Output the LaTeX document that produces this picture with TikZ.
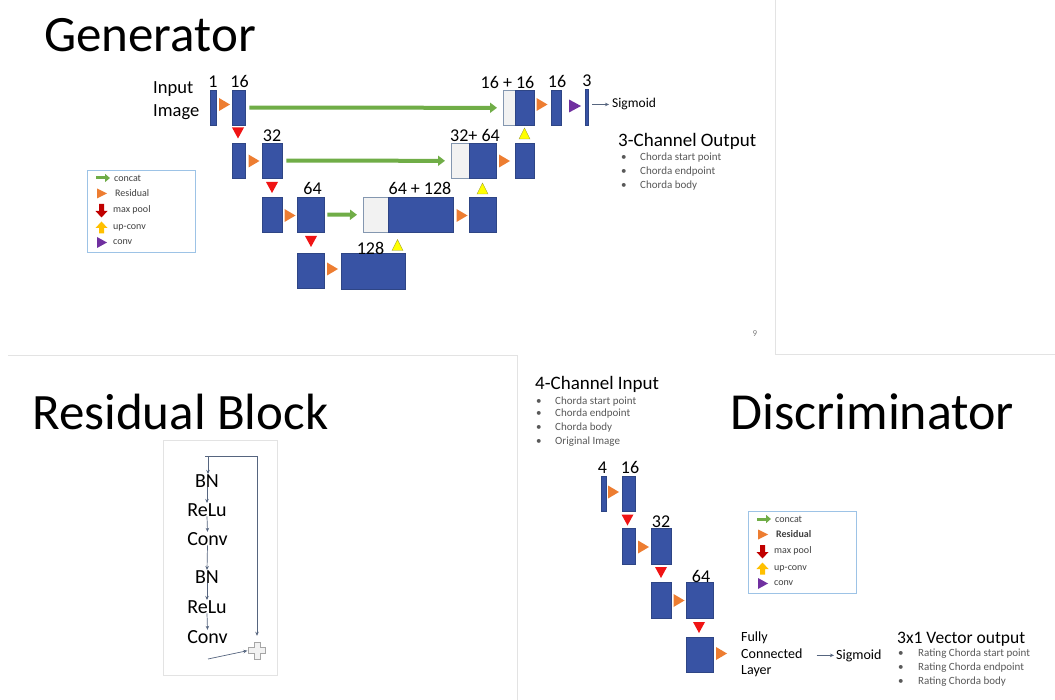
\documentclass[tikz,border=0pt]{standalone}
\usepackage{fontspec}
\setmainfont{Carlito}
\usetikzlibrary{arrows.meta}

\definecolor{blkblue}{HTML}{3853A4}
\definecolor{blkedge}{HTML}{2E4585}
\definecolor{catfill}{HTML}{F2F2F2}
\definecolor{catedge}{HTML}{8497B0}
\definecolor{catgreen}{HTML}{70AD47}
\definecolor{triorange}{HTML}{ED7D31}
\definecolor{trired}{HTML}{F01414}
\definecolor{triyellow}{HTML}{FFFF00}
\definecolor{yellowedge}{HTML}{9A9A30}
\definecolor{triviolet}{HTML}{7030A0}
\definecolor{legred}{HTML}{C00000}
\definecolor{legyellow}{HTML}{FFC000}
\definecolor{legedge}{HTML}{9DC3E6}
\definecolor{legtextc}{HTML}{404040}
\definecolor{bulgray}{HTML}{595959}
\definecolor{slate}{HTML}{56657F}
\definecolor{panel}{HTML}{E3E3E3}

\newcommand\Blk[6][blk]{\node[#1, minimum width=#5pt, minimum height=#6pt, anchor=north west] (#2) at (#3,#4) {};}
\newcommand\Bul[5]{%
  \node[bultext] (#1b) at (#2,#4) {\textbullet};
  \node[bultext] (#1t) at (#3,#4) {#5};}

\tikzset{
  blk/.style={draw=blkedge, fill=blkblue, line width=0.3pt, inner sep=0pt},
  catw/.style={draw=catedge, fill=catfill, line width=0.6pt, inner sep=0pt},
  title/.style={font=\fontsize{51}{60}\selectfont, anchor=base west, inner sep=0pt},
  lbl/.style={font=\fontsize{18}{20}\selectfont, anchor=base, inner sep=0pt},
  side/.style={font=\fontsize{18.5}{22}\selectfont, anchor=base west, inner sep=0pt},
  head/.style={font=\fontsize{19}{22}\selectfont, anchor=base west, inner sep=0pt},
  bultext/.style={font=\fontsize{11}{13}\selectfont, text=bulgray, anchor=base west, inner sep=0pt},
  rbtext/.style={font=\fontsize{20}{22}\selectfont, anchor=base, inner sep=0pt},
  legtext/.style={font=\fontsize{10}{12}\selectfont, text=legtextc, anchor=west, inner sep=0pt},
  catarrow/.style={draw=catgreen, line width=4pt, shorten <=4pt, shorten >=6pt,
    -{Triangle[length=7pt,width=10pt]}},
  thinarrow/.style={draw=slate, line width=0.6pt, -{Stealth[length=4pt,width=3.5pt]}},
  rbarrow/.style={draw=slate, line width=0.7pt, -{Stealth[length=4pt,width=3.5pt]}},
  rbline/.style={draw=slate, line width=0.7pt},
  panelline/.style={draw=panel, line width=0.8pt},
  rtri/.pic={\fill[triorange] (-5,-6.5) -- (6,0) -- (-5,6.5) -- cycle;},
  ptri/.pic={\fill[triviolet] (-6,-6.5) -- (6,0) -- (-6,6.5) -- cycle;},
  dtri/.pic={\fill[trired] (-6,-5.5) -- (6,-5.5) -- (0,5.5) -- cycle;},
  utri/.pic={\filldraw[fill=triyellow, draw=yellowedge, line width=0.4pt]
    (-5.5,5.5) -- (5.5,5.5) -- (0,-5.5) -- cycle;},
  legend/.pic={
    \node[draw=legedge, fill=white, line width=1pt, minimum width=108pt,
      minimum height=82pt, anchor=north west, inner sep=0pt] (-box) at (0,0) {};
    \draw[draw=catgreen, line width=3pt, -{Triangle[length=5pt,width=8pt]}] (9,8) -- (23,8);
    \fill[triorange] (10,18.5) -- (20,23.5) -- (10,28.5) -- cycle;
    \fill[legred] (12,34) -- (17,34) -- (17,41) -- (20.5,41) -- (14.5,47.5) -- (8.5,41) -- (12,41) -- cycle;
    \fill[legyellow] (14.5,51.5) -- (20.5,58) -- (17,58) -- (17,63.5) -- (12,63.5) -- (12,58) -- (8.5,58) -- cycle;
    \fill[triviolet] (10,67) -- (20,72.5) -- (10,78) -- cycle;
    \node[legtext] (-t1) at (27,8) {concat};
    \node[legtext] (-t2) at (28,23.5) {#1Residual};
    \node[legtext] (-t3) at (26,39.5) {max pool};
    \node[legtext] (-t4) at (26,57.5) {up-conv};
    \node[legtext] (-t5) at (26,72.5) {conv};
  }
}

\begin{document}
\begin{tikzpicture}[x=1pt,y=-1pt]
\useasboundingbox (0,0) rectangle (1055,700);
\fill[white] (0,0) rectangle (1055,700);

% slide frames
\draw[panelline] (775,0) -- (775,354) -- (1055,354);
\draw[panelline] (8,355) -- (517,355) -- (517,700);
\node[font=\fontsize{9}{10}\selectfont, text=gray, inner sep=0pt] (pagenum) at (755,334) {9};

% ---------------- Generator ----------------
\node[title] (gtitle) at (44,52) {Generator};
\node[side] (inp1) at (153,94) {Input};
\node[side] (inp2) at (153,117) {Image};

% encoder / decoder columns
\Blk{g1}{210}{90}{6}{35}
\Blk{g2}{232}{90}{13}{35}
\Blk[catw]{gc1w}{503}{90}{12}{35}
\Blk{gc1}{515}{90}{19}{35}
\Blk{g3}{551}{90}{10}{35}
\Blk{g4}{585}{89}{3}{36}

\Blk{r2a}{232}{143}{13}{35}
\Blk{r2b}{262}{143}{20}{35}
\Blk[catw]{gc2w}{451}{143}{18}{35}
\Blk{gc2}{469}{143}{27}{35}
\Blk{r2c}{515}{143}{19}{35}

\Blk{r3a}{262}{197}{20}{35}
\Blk{r3b}{297}{197}{27}{35}
\Blk[catw]{gc3w}{363}{197}{25}{35}
\Blk{gc3}{388}{197}{65}{35}
\Blk{r3c}{469}{197}{27}{35}

\Blk{r4a}{297}{253}{27}{35}
\Blk{r4b}{341}{253}{64}{36}

% skip connections
\draw[catarrow] (g2.east) -- (gc1w.west);
\draw[catarrow] (r2b.east) -- (gc2w.west);
\draw[catarrow, shorten <=3pt] (r3b.east) -- (gc3w.west);

% operation markers
\pic at (224,104.5) {rtri};
\pic at (541.5,104.5) {rtri};
\pic at (575,106) {ptri};
\pic at (253.5,161) {rtri};
\pic at (504,161) {rtri};
\pic at (289.5,215.5) {rtri};
\pic at (461.5,215.5) {rtri};
\pic at (332,269) {rtri};
\pic at (238,133) {dtri};
\pic at (272,187.5) {dtri};
\pic at (311,241.5) {dtri};
\pic at (524.5,133.5) {utri};
\pic at (482.5,188.5) {utri};
\pic at (397.5,245) {utri};

% channel counts
\node[lbl] (l1) at (213,88) {1};
\node[lbl] (l2) at (239.5,88) {16};
\node[lbl] (l3) at (507.5,89) {16 + 16};
\node[lbl] (l4) at (557,88) {16};
\node[lbl] (l5) at (587,87) {3};
\node[lbl] (l6) at (272,142) {32};
\node[lbl] (l7) at (475,142) {32+ 64};
\node[lbl] (l8) at (312.5,195) {64};
\node[lbl] (l9) at (420,195) {64 + 128};
\node[lbl] (l10) at (370.5,255) {128};

% output
\node[font=\fontsize{13.5}{15}\selectfont, anchor=base west, inner sep=0pt] (sigT) at (612,108) {Sigmoid};
\draw[thinarrow, shorten <=4pt, shorten >=3pt] (sigT.west -| g4.east) -- (sigT.west);
\node[head] (outh) at (618,147) {3-Channel Output};
\Bul{o1}{621}{640}{161}{Chorda start point}
\Bul{o2}{621}{640}{175}{Chorda endpoint}
\Bul{o3}{621}{640}{188.5}{Chorda body}

\pic (lgA) at (87,170) {legend=\mdseries};

% ---------------- Residual block ----------------
\node[title] (rtitle) at (32,430) {Residual Block};
\node[draw=panel, line width=0.8pt, minimum width=114pt, minimum height=235pt,
  anchor=north west, inner sep=0pt] (rbox) at (163,440) {};
\node[rbtext] (bn1) at (207,487) {BN};
\node[rbtext] (relu1) at (207,516) {ReLu};
\node[rbtext] (conv1) at (207.5,545) {Conv};
\node[rbtext] (bn2) at (207,583) {BN};
\node[rbtext] (relu2) at (207,613) {ReLu};
\node[rbtext] (conv2) at (207.5,643) {Conv};
\node[minimum size=17pt, inner sep=0pt] (plus) at (257,650.5) {};
\filldraw[fill=catfill, draw=gray!70, line width=0.8pt]
  (plus.center) ++(-3,-8.5) -- ++(6,0) -- ++(0,5.5) -- ++(5.5,0) -- ++(0,6)
  -- ++(-5.5,0) -- ++(0,5.5) -- ++(-6,0) -- ++(0,-5.5) -- ++(-5.5,0)
  -- ++(0,-6) -- ++(5.5,0) -- cycle;
\coordinate (rtop) at (205,456);
\coordinate (rcorner) at (257,456);
\coordinate (rin) at (208,659);
\draw[rbarrow, shorten >=6pt] (rtop) -- (rcorner) -- (rcorner |- plus.north);
\draw[rbarrow] (208,456) -- (bn1.north -| 208,0);
\draw[rbarrow] (bn1.south) -- (relu1.north);
\draw[rbarrow] (relu1.south) -- (conv1.north);
\draw[rbarrow] (conv1.south) -- (bn2.north);
\draw[rbarrow] (bn2.south) -- (relu2.north);
\draw[rbarrow] (relu2.south) -- (conv2.north);
\draw[rbarrow, shorten >=1pt] (rin) -- (plus.west);

% ---------------- Discriminator ----------------
\node[title, font=\fontsize{52}{60}\selectfont] (dtitle) at (730,430) {Discriminator};
\node[head] (inh) at (535,390) {4-Channel Input};
\Bul{i1}{536}{555}{404.5}{Chorda start point}
\Bul{i2}{536}{555}{417}{Chorda endpoint}
\Bul{i3}{536}{555}{430.5}{Chorda body}
\Bul{i4}{536}{555}{444.5}{Original Image}

\Blk{d1}{601}{476}{5}{35}
\Blk{d2}{622}{476}{13}{35}
\Blk{d3}{622}{528}{13}{36}
\Blk{d4}{651}{528}{20}{36}
\Blk{d5}{651}{582}{20}{36}
\Blk{d6}{686}{582}{27}{36}
\Blk{d7}{686}{637}{27}{35}

\pic at (613,492) {rtri};
\pic at (643,547) {rtri};
\pic at (678.5,600.5) {rtri};
\pic at (721,653.5) {rtri};
\pic at (627.5,520) {dtri};
\pic at (661,572.5) {dtri};
\pic at (699,627.5) {dtri};

\node[lbl] (dl1) at (602.5,473) {4};
\node[lbl] (dl2) at (630,473) {16};
\node[lbl] (dl3) at (661,527) {32};
\node[lbl] (dl4) at (701,582) {64};

\node[font=\fontsize{14}{16.5}\selectfont, align=left, inner sep=0pt, anchor=north west]
  (fcl) at (741,632) {Fully\\Connected\\Layer};
\node[font=\fontsize{14}{16}\selectfont, anchor=base west, inner sep=0pt] (sigB) at (836,659) {Sigmoid};
\draw[thinarrow, shorten <=14pt, shorten >=2pt] (fcl.east |- sigB.west) -- (sigB.west);

\node[font=\fontsize{17.5}{20}\selectfont, anchor=base west, inner sep=0pt] (vech) at (897,643) {3x1 Vector output};
\Bul{v1}{898}{918}{656.5}{Rating Chorda start point}
\Bul{v2}{898}{918}{670.5}{Rating Chorda endpoint}
\Bul{v3}{898}{918}{684.5}{Rating Chorda body}

\pic (lgB) at (748,511) {legend=\bfseries};
\end{tikzpicture}
\end{document}
